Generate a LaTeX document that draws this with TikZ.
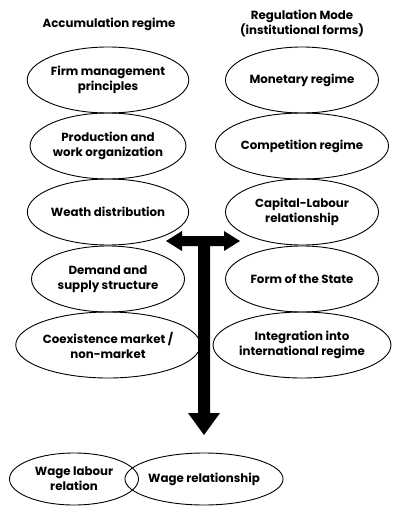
\documentclass[tikz,border=0pt]{standalone}
\usepackage{fontspec}
\setmainfont{Poppins}
\usetikzlibrary{shapes.geometric}
\begin{document}
\begin{tikzpicture}[x=1pt,y=-1pt,
  oval/.style={ellipse, draw=black, line width=0.9pt, minimum width=153pt, minimum height=66pt, inner sep=0pt,
    align=center, font=\bfseries\fontsize{11.8}{15}\selectfont},
  smalloval/.style={oval, minimum width=129pt, minimum height=52pt},
  title/.style={align=center, font=\bfseries\fontsize{11.8}{15}\selectfont},
  block/.style={fill=black, draw=none}]
\useasboundingbox (0,0) rectangle (398,506);
\node[title] (tl) at (109,24) {Accumulation regime};
\node[title] (tr) at (302,24) {Regulation Mode\\(institutional forms)};
\node[oval] (l1) at (108,80) {Firm management\\principles};
\node[oval] (l2) at (108,146) {Production and\\work organization};
\node[oval] (l3) at (108,212) {Weath distribution};
\node[oval] (l4) at (108,279) {Demand and\\supply structure};
\node[oval] (l5) at (108,345) {Coexistence market /\\non-market};
\node[oval] (r1) at (302,80) {Monetary regime};
\node[oval] (r2) at (302,146) {Competition regime};
\node[oval] (r3) at (302,212) {Capital-Labour\\relationship};
\node[oval] (r4) at (302,279) {Form of the State};
\node[oval] (r5) at (302,345) {Integration into\\international regime};
\node[smalloval] (b1) at (74,479) {Wage labour\\relation};
\node[smalloval, minimum width=131pt] (b2) at (204,479) {Wage relationship};
\coordinate (hl) at (166,241);
\coordinate (hr) at (240,241);
\coordinate (vt) at (204,435);
\fill[block] (hl) -- (182,231) -- (182,236) -- (224,236) -- (224,231) -- (hr)
  -- (224,251) -- (224,246) -- (210,246) -- (210,413) -- (220,413) -- (vt)
  -- (188,413) -- (198,413) -- (198,246) -- (182,246) -- (182,251) -- cycle;
\end{tikzpicture}
\end{document}
